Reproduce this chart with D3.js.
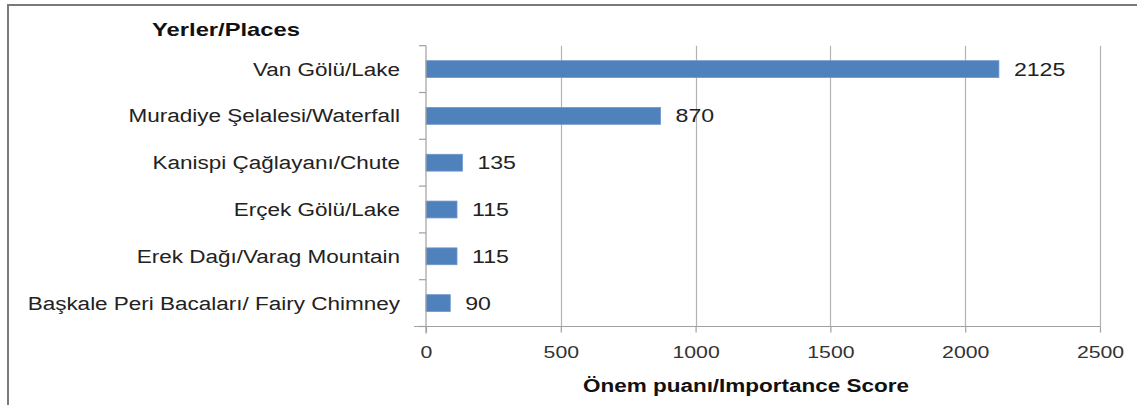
<!DOCTYPE html>
<html><head><meta charset="utf-8">
<script src="https://cdn.jsdelivr.net/npm/d3@7"></script>
<style>body{margin:0;background:#fff;}svg{display:block;font-family:"Liberation Sans",Arial,sans-serif;}</style>
</head><body>
<script>
const categories = ["Van Gölü/Lake","Muradiye Şelalesi/Waterfall","Kanispi Çağlayanı/Chute","Erçek Gölü/Lake","Erek Dağı/Varag Mountain","Başkale Peri Bacaları/ Fairy Chimney"];
const values = [2125, 870, 135, 115, 115, 90];
const xTicks = [0, 500, 1000, 1500, 2000, 2500];
const yTitle = "Yerler/Places";
const xTitle = "Önem puanı/Importance Score";

(function(){
const W = 1137, H = 405;
const SX = 1.25; // horizontal text stretch seen in the reference
const svg = d3.select("body").append("svg").attr("width", W).attr("height", H);

// frame
svg.append("line").attr("x1",8).attr("x2",8).attr("y1",4).attr("y2",H).attr("stroke","#7a7a7a").attr("stroke-width",2);
svg.append("line").attr("x1",7).attr("x2",W).attr("y1",5).attr("y2",5).attr("stroke","#7a7a7a").attr("stroke-width",2);

const plotTop = 45.7, plotBottom = 326.5;
const x = d3.scaleLinear().domain([0,2500]).range([426,1100]);
const y = d3.scaleBand().domain(categories).range([plotTop,plotBottom]).paddingInner(0.64).paddingOuter(0.32);
const step = y.step();

function stretchedText(g, tx, ty, str, size, weight, anchor, fill){
  return g.append("text").attr("transform",`translate(${tx},${ty}) scale(${SX},1)`)
    .attr("text-anchor",anchor).attr("font-size",size).attr("font-weight",weight).attr("fill",fill).text(str);
}

// gridlines
svg.append("g").selectAll("line").data(xTicks.slice(1)).join("line")
  .attr("x1",d=>Math.round(x(d))+0.5).attr("x2",d=>Math.round(x(d))+0.5)
  .attr("y1",plotTop).attr("y2",plotBottom).attr("stroke","#b3b3b3").attr("stroke-width",1.2);

// bars
svg.append("g").selectAll("rect").data(values).join("rect")
  .attr("x",x(0)).attr("y",(d,i)=>y(categories[i]))
  .attr("width",d=>x(d)-x(0)).attr("height",y.bandwidth())
  .attr("fill","#4f81bd").attr("stroke","#6f97cb").attr("stroke-width",0.8);

// value labels
const gv = svg.append("g");
values.forEach((d,i)=>stretchedText(gv, x(d)+15, y(categories[i])+y.bandwidth()/2+6.5, d, 18.5, "normal", "start", "#222"));

// x axis
const xAxis = d3.axisBottom(x).tickValues(xTicks).tickSize(6).tickPadding(10).tickFormat(d3.format("d"));
const gx = svg.append("g").attr("transform",`translate(0,${plotBottom})`).call(xAxis);
gx.select(".domain").attr("stroke","#a0a0a0").attr("stroke-width",1.2).attr("d",`M${x(0)-12},0H${x(2500)}`);
gx.selectAll(".tick line").attr("stroke","#a0a0a0").attr("stroke-width",1.2);
gx.selectAll(".tick text").attr("font-size",17).attr("fill","#333").attr("font-family","Liberation Sans, Arial, sans-serif")
  .attr("y",null).attr("dy",null).attr("transform",`translate(0,31) scale(${SX},1)`);

// y axis
const yAxis = d3.axisLeft(y).tickSize(0).tickPadding(26);
const gy = svg.append("g").attr("transform",`translate(${x(0)},0)`).call(yAxis);
gy.select(".domain").attr("stroke","#a0a0a0").attr("stroke-width",1.2).attr("d",`M0,${plotTop}V${plotBottom+7}`);
gy.selectAll(".tick text").attr("font-size",18).attr("fill","#222").attr("font-family","Liberation Sans, Arial, sans-serif")
  .attr("x",null).attr("dy",null).attr("transform",`translate(-26,6.5) scale(${SX},1)`);
const bounds = d3.range(categories.length+1).map(i=>plotTop+i*step);
gy.append("g").selectAll("line").data(bounds).join("line")
  .attr("x1",-7).attr("x2",0).attr("y1",d=>d).attr("y2",d=>d)
  .attr("stroke","#a0a0a0").attr("stroke-width",1.2);

// titles
stretchedText(svg, 226, 36, yTitle, 19, "bold", "middle", "#111");
stretchedText(svg, 746, 392, xTitle, 18, "bold", "middle", "#111");
})();
</script>
</body></html>
